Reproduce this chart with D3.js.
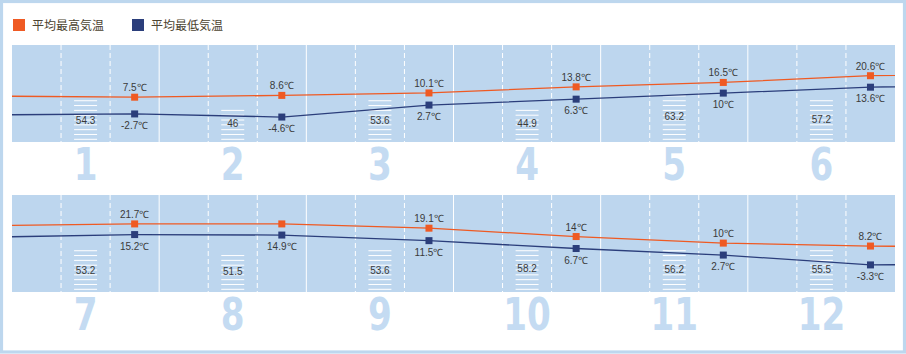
<!DOCTYPE html>
<html>
<head>
<meta charset="utf-8">
<script src="https://cdn.jsdelivr.net/npm/d3@7"></script>
<style>
  body { margin: 0; background: #fff; }
  svg { display: block; }
</style>
</head>
<body>
<div id="chart"></div>
<script>
// monthly data
var months = [1, 2, 3, 4, 5, 6, 7, 8, 9, 10, 11, 12];
var highs = [7.5, 8.6, 10.1, 13.8, 16.5, 20.6, 21.7, 21.7, 19.1, 14, 10, 8.2];
var lows = [-2.7, -4.6, 2.7, 6.3, 10, 13.6, 15.2, 14.9, 11.5, 6.7, 2.7, -3.3];
var rain = [54.3, 46, 53.6, 44.9, 63.2, 57.2, 53.2, 51.5, 53.6, 58.2, 56.2, 55.5];
// august high has no label in the original
var highLabels = ["7.5", "8.6", "10.1", "13.8", "16.5", "20.6", "21.7", "", "19.1", "14", "10", "8.2"];
var lowLabels = ["-2.7", "-4.6", "2.7", "6.3", "10", "13.6", "15.2", "14.9", "11.5", "6.7", "2.7", "-3.3"];
var legendNames = ["平均最高気温", "平均最低気温"];

var width = 906, height = 354;
var orange = "#ef5a23", navy = "#2b3e7b", panelFill = "#bdd6ee";

var svg = d3.select("#chart").append("svg")
    .attr("width", width)
    .attr("height", height);

// outer frame
svg.append("rect")
    .attr("x", 1.5).attr("y", 1.5)
    .attr("width", width - 3).attr("height", height - 3.5)
    .attr("fill", "#fff")
    .attr("stroke", "#bdd7ee")
    .attr("stroke-width", 3.2);

// legend
var legend = svg.append("g");
[orange, navy].forEach(function(c, i){
    var lx = 13 + i * 119;
    legend.append("rect")
        .attr("x", lx).attr("y", 19)
        .attr("width", 12).attr("height", 12)
        .attr("fill", c);
    legend.append("text")
        .attr("x", lx + 19).attr("y", 30)
        .attr("font-family", "'Noto Sans CJK JP', sans-serif")
        .attr("font-size", 12)
        .attr("fill", "#4c4330")
        .text(legendNames[i]);
});

var panelLeft = 12, panelRight = 895, panelH = 97;
var panelTops = [45, 195];

var x = d3.scaleLinear().domain([0, 6]).range([panelLeft, panelRight]);
var barH = d3.scaleLinear().domain([0, 100]).range([0, 72.7]);
var lineGap = 4.82;

panelTops.forEach(function(top, p){
    var g = svg.append("g");
    var bottom = top + panelH;

    var y = d3.scaleLinear().domain([-5, 25]).range([top + 72.7, top + 23.5]);

    g.append("rect")
        .attr("x", panelLeft).attr("y", top)
        .attr("width", panelRight - panelLeft).attr("height", panelH)
        .attr("fill", panelFill);

    // grid: solid at month edges, dashed at thirds
    for (var i = 0; i < 6; i++) {
        if (i > 0) {
            g.append("line")
                .attr("x1", x(i)).attr("x2", x(i))
                .attr("y1", top).attr("y2", bottom)
                .attr("stroke", "#fff").attr("stroke-width", 1);
        }
        [1 / 3, 2 / 3].forEach(function(f){
            g.append("line")
                .attr("x1", x(i + f)).attr("x2", x(i + f))
                .attr("y1", top).attr("y2", bottom)
                .attr("stroke", "#fff").attr("stroke-width", 1)
                .attr("stroke-dasharray", "5,3");
        });
    }

    // rain bars made of white stripes
    for (var i = 0; i < 6; i++) {
        var m = p * 6 + i;
        var h = barH(rain[m]);
        var cx = x(i + 0.5);
        var base = bottom - 2.7;
        var n = Math.floor(h / lineGap);
        for (var k = 0; k <= n; k++) {
            g.append("line")
                .attr("x1", cx - 11.5).attr("x2", cx + 11.5)
                .attr("y1", base - k * lineGap).attr("y2", base - k * lineGap)
                .attr("stroke", "#fff").attr("stroke-width", 1);
        }
        g.append("text")
            .attr("x", cx).attr("y", base - h / 2 + 4)
            .attr("text-anchor", "middle")
            .attr("font-family", "'Liberation Sans', Arial, sans-serif")
            .attr("font-size", 10)
            .attr("fill", "#3a3a3a")
            .text(rain[m]);

        // month number
        g.append("text")
            .attr("transform", "translate(" + cx + "," + (bottom + 38) + ") scale(0.76,1)")
            .attr("text-anchor", "middle")
            .attr("font-family", "'DejaVu Sans', sans-serif")
            .attr("font-weight", "bold")
            .attr("font-size", 45)
            .attr("fill", "#c4dbf2")
            .text(months[m]);
    }

    // temperature lines, continuing into neighbour months and clipped
    var clipId = "clip" + p;
    svg.append("clipPath").attr("id", clipId)
        .append("rect")
        .attr("x", panelLeft).attr("y", top)
        .attr("width", panelRight - panelLeft).attr("height", panelH);

    var idx = d3.range(-1, 7);
    var monthOf = function(i){ return (p * 6 + i + 12) % 12; };

    [[highs, orange], [lows, navy]].forEach(function(s){
        var line = d3.line()
            .x(function(i){ return x(i + 5 / 6); })
            .y(function(i){ return y(s[0][monthOf(i)]); });
        g.append("path")
            .datum(idx)
            .attr("clip-path", "url(#" + clipId + ")")
            .attr("d", line)
            .attr("fill", "none")
            .attr("stroke", s[1])
            .attr("stroke-width", 1.3);
    });

    for (var i = 0; i < 6; i++) {
        var m = p * 6 + i;
        var px = x(i + 5 / 6);
        [[highs, orange, highLabels, -6], [lows, navy, lowLabels, 15]].forEach(function(s){
            var py = y(s[0][m]);
            g.append("rect")
                .attr("x", px - 3.5).attr("y", py - 3.5)
                .attr("width", 7).attr("height", 7)
                .attr("fill", s[1]);
            if (s[2][m] !== "") {
                g.append("text")
                    .attr("x", px).attr("y", py + s[3])
                    .attr("text-anchor", "middle")
                    .attr("font-family", "'Liberation Sans', Arial, sans-serif")
                    .attr("font-size", 10)
                    .attr("fill", "#3a3a3a")
                    .text(s[2][m] + "℃");
            }
        });
    }
});
</script>
</body>
</html>
